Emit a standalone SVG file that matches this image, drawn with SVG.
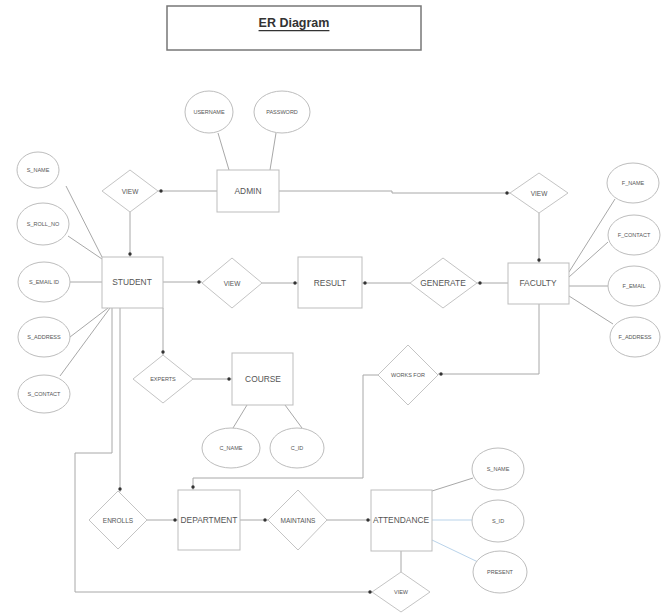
<svg xmlns="http://www.w3.org/2000/svg" width="661" height="615" viewBox="0 0 661 615">
<style>
.ent{fill:#fff;stroke:#bdbdbd;stroke-width:1}
.rel{fill:#fff;stroke:#c4c4c4;stroke-width:1}
.att{fill:#fff;stroke:#bdbdbd;stroke-width:1}
.ln{fill:none;stroke:#a8a8a8;stroke-width:1}
.blue{fill:none;stroke:#b9d3ea;stroke-width:1}
text{font-family:"Liberation Sans",Arial,sans-serif;fill:#555;text-anchor:middle;dominant-baseline:central}
.te{font-size:8.4px}
.tr{font-size:6.5px}
.ta{font-size:5.5px}
.title{font-size:12.5px;font-weight:bold;fill:#333;text-decoration:underline}
</style>
<defs>
<marker id="dot" markerWidth="6" markerHeight="6" refX="5" refY="2" orient="auto" markerUnits="userSpaceOnUse" overflow="visible">
<circle cx="2" cy="2" r="1.7" fill="#333"/>
</marker>
</defs>
<rect width="661" height="615" fill="#fff"/>

<g id="title">
<rect x="167" y="6" width="254" height="44" fill="#fff" stroke="#777" stroke-width="1.5"/>
<text class="title" x="294" y="23">ER Diagram</text>
</g>

<g id="connectors">
<line class="ln" x1="218" y1="133" x2="229" y2="170"/>
<line class="ln" x1="276" y1="133" x2="270" y2="170"/>
<line class="ln" x1="217" y1="191" x2="158" y2="191" marker-end="url(#dot)"/>
<polyline class="ln" points="279,191 392,191 392,193 510,193" marker-end="url(#dot)"/>
<line class="ln" x1="130" y1="212" x2="130" y2="257" marker-end="url(#dot)"/>
<line class="ln" x1="539" y1="213" x2="539" y2="263" marker-end="url(#dot)"/>
<line class="ln" x1="66" y1="186" x2="102" y2="257"/>
<line class="ln" x1="68" y1="236" x2="102" y2="259"/>
<line class="ln" x1="70" y1="282" x2="102" y2="282"/>
<line class="ln" x1="70" y1="337" x2="108" y2="308"/>
<line class="ln" x1="60" y1="376" x2="110" y2="308"/>
<line class="ln" x1="163" y1="282" x2="202" y2="282" marker-end="url(#dot)"/>
<line class="ln" x1="262" y1="283" x2="298" y2="283" marker-end="url(#dot)"/>
<line class="ln" x1="410" y1="283" x2="362" y2="283" marker-end="url(#dot)"/>
<line class="ln" x1="508" y1="283" x2="477" y2="283" marker-end="url(#dot)"/>
<line class="ln" x1="569" y1="272" x2="615" y2="199"/>
<line class="ln" x1="569" y1="277" x2="608" y2="242"/>
<line class="ln" x1="569" y1="286" x2="608" y2="286"/>
<line class="ln" x1="569" y1="296" x2="613" y2="324"/>
<line class="ln" x1="163" y1="308" x2="163" y2="355" marker-end="url(#dot)"/>
<line class="ln" x1="193" y1="379" x2="232" y2="379" marker-end="url(#dot)"/>
<line class="ln" x1="247" y1="405" x2="233" y2="428"/>
<line class="ln" x1="285" y1="405" x2="302" y2="428"/>
<polyline class="ln" points="539,304 539,374 438,374" marker-end="url(#dot)"/>
<polyline class="ln" points="378,375 363,375 363,478 193,478 193,490" marker-end="url(#dot)"/>
<line class="ln" x1="120" y1="308" x2="120" y2="492" marker-end="url(#dot)"/>
<polyline class="ln" points="112,308 112,453 75,453 75,592 373,592" marker-end="url(#dot)"/>
<line class="ln" x1="147" y1="520" x2="178" y2="520" marker-end="url(#dot)"/>
<line class="ln" x1="240" y1="520" x2="268" y2="520" marker-end="url(#dot)"/>
<line class="ln" x1="327" y1="520" x2="371" y2="520" marker-end="url(#dot)"/>
<line class="ln" x1="432" y1="491" x2="473" y2="478"/>
<line class="blue" x1="432" y1="520" x2="472" y2="520"/>
<line class="blue" x1="432" y1="540" x2="478" y2="562"/>
<line class="ln" x1="401" y1="551" x2="401" y2="572"/>
</g>

<g id="username"><ellipse class="att" cx="209" cy="112" rx="24" ry="21"/><text class="ta" x="209" y="112">USERNAME</text></g>
<g id="password"><ellipse class="att" cx="282" cy="112" rx="28" ry="21"/><text class="ta" x="282" y="112">PASSWORD</text></g>
<g id="admin"><rect class="ent" x="217" y="170" width="62" height="42"/><text class="te" x="248" y="191">ADMIN</text></g>
<g id="view-left"><polygon class="rel" points="130,170 158,191 130,212 102,191"/><text class="tr" x="130" y="191">VIEW</text></g>
<g id="view-right"><polygon class="rel" points="539,173 568,193 539,213 510,193"/><text class="tr" x="539" y="193">VIEW</text></g>

<g id="s-name"><ellipse class="att" cx="38" cy="170" rx="21" ry="18"/><text class="ta" x="38" y="170">S_NAME</text></g>
<g id="s-roll-no"><ellipse class="att" cx="43" cy="224" rx="26" ry="21"/><text class="ta" x="43" y="224">S_ROLL_NO</text></g>
<g id="s-email"><ellipse class="att" cx="44" cy="282" rx="26" ry="20"/><text class="ta" x="44" y="282">S_EMAIL ID</text></g>
<g id="s-address"><ellipse class="att" cx="44" cy="337" rx="26" ry="20"/><text class="ta" x="44" y="337">S_ADDRESS</text></g>
<g id="s-contact"><ellipse class="att" cx="44" cy="394" rx="26" ry="19"/><text class="ta" x="44" y="394">S_CONTACT</text></g>

<g id="student"><rect class="ent" x="102" y="257" width="61" height="51"/><text class="te" x="132" y="282">STUDENT</text></g>
<g id="view-mid"><polygon class="rel" points="232,258 262,283 232,308 202,283"/><text class="tr" x="232" y="283">VIEW</text></g>
<g id="result"><rect class="ent" x="298" y="257" width="64" height="51"/><text class="te" x="330" y="283">RESULT</text></g>
<g id="generate"><polygon class="rel" points="443,258 477,283 443,308 410,283"/><text class="te" x="443" y="283">GENERATE</text></g>
<g id="faculty"><rect class="ent" x="508" y="263" width="61" height="41"/><text class="te" x="538" y="283">FACULTY</text></g>

<g id="f-name"><ellipse class="att" cx="633" cy="183" rx="26" ry="20"/><text class="ta" x="633" y="183">F_NAME</text></g>
<g id="f-contact"><ellipse class="att" cx="634" cy="235" rx="26" ry="20"/><text class="ta" x="634" y="235">F_CONTACT</text></g>
<g id="f-email"><ellipse class="att" cx="634" cy="286" rx="26" ry="20"/><text class="ta" x="634" y="286">F_EMAIL</text></g>
<g id="f-address"><ellipse class="att" cx="635" cy="337" rx="25" ry="20"/><text class="ta" x="635" y="337">F_ADDRESS</text></g>

<g id="experts"><polygon class="rel" points="163,355 193,379 163,403 133,379"/><text class="ta" x="163" y="379">EXPERTS</text></g>
<g id="course"><rect class="ent" x="232" y="353" width="61" height="52"/><text class="te" x="263" y="379">COURSE</text></g>
<g id="c-name"><ellipse class="att" cx="231" cy="448" rx="29" ry="20"/><text class="ta" x="231" y="448">C_NAME</text></g>
<g id="c-id"><ellipse class="att" cx="297" cy="448" rx="27" ry="20"/><text class="ta" x="297" y="448">C_ID</text></g>

<g id="works-for"><polygon class="rel" points="408,345 438,375 408,405 378,375"/><text class="ta" x="408" y="375">WORKS FOR</text></g>

<g id="enrolls"><polygon class="rel" points="118,491 147,520 118,549 89,520"/><text class="tr" x="118" y="520">ENROLLS</text></g>
<g id="department"><rect class="ent" x="178" y="490" width="62" height="60"/><text class="te" x="209" y="520">DEPARTMENT</text></g>
<g id="maintains"><polygon class="rel" points="298,490 327,520 298,550 268,520"/><text class="tr" x="298" y="520">MAINTAINS</text></g>
<g id="attendance"><rect class="ent" x="371" y="490" width="61" height="61"/><text class="te" x="401" y="520">ATTENDANCE</text></g>

<g id="s-name-2"><ellipse class="att" cx="498" cy="469" rx="26" ry="21"/><text class="ta" x="498" y="469">S_NAME</text></g>
<g id="s-id"><ellipse class="att" cx="498" cy="521" rx="26" ry="21"/><text class="ta" x="498" y="521">S_ID</text></g>
<g id="present"><ellipse class="att" cx="500" cy="572" rx="27" ry="21"/><text class="ta" x="500" y="572">PRESENT</text></g>
<g id="view-bottom"><polygon class="rel" points="401,572 430,592 401,612 372,592"/><text class="ta" x="401" y="592">VIEW</text></g>
</svg>
